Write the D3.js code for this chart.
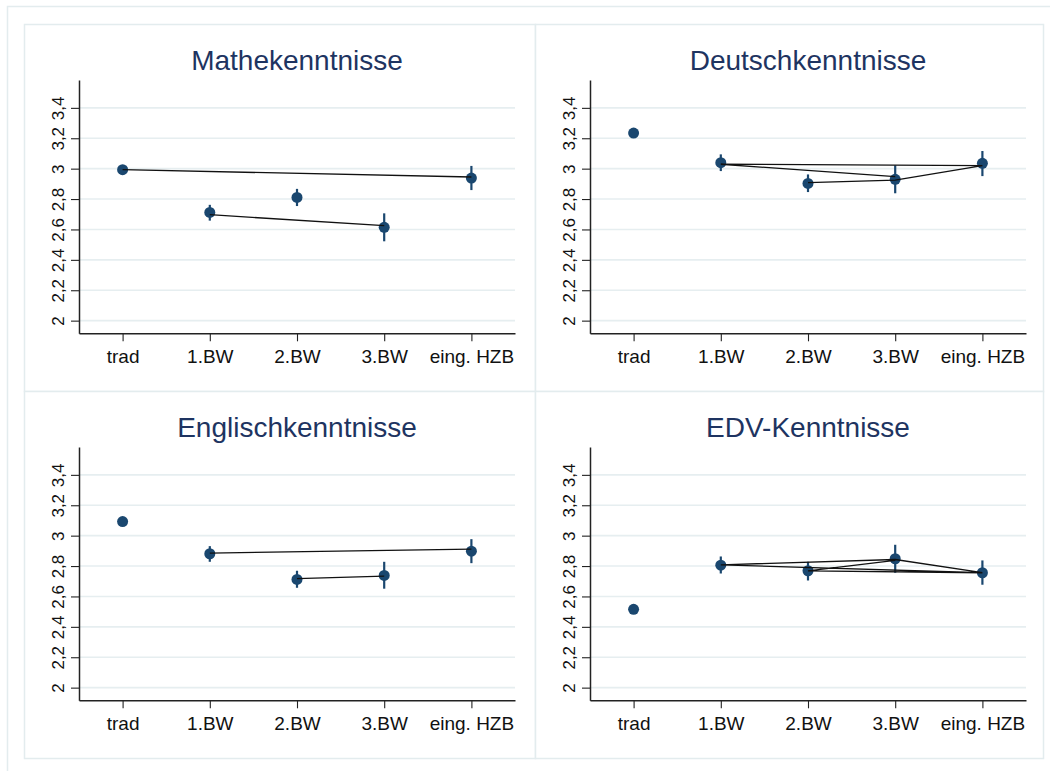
<!DOCTYPE html>
<html><head><meta charset="utf-8">
<script src="https://cdn.jsdelivr.net/npm/d3@7/dist/d3.min.js"></script>
<style>
body{margin:0;background:#fff}
svg{display:block}
text{font-family:"Liberation Sans",Arial,Helvetica,sans-serif}
</style>
</head><body>
<svg id="chart" width="1050" height="771"></svg>
<script>
// ---------- data ----------
const categories = ["trad", "1.BW", "2.BW", "3.BW", "eing. HZB"];
const yTickValues = [2, 2.2, 2.4, 2.6, 2.8, 3, 3.2, 3.4];
const yTickLabels = ["2", "2,2", "2,4", "2,6", "2,8", "3", "3,2", "3,4"];
const panelTitles = ["Mathekenntnisse", "Deutschkenntnisse", "Englischkenntnisse", "EDV-Kenntnisse"];

const matheMean  = [2.993, 2.712, 2.811, 2.614, 2.938];
const matheLow   = [null,  2.658, 2.754, 2.522, 2.859];
const matheHigh  = [null,  2.762, 2.867, 2.706, 3.018];
const matheLines = [
  [["trad", 2.993], ["eing. HZB", 2.945]],
  [["1.BW", 2.697], ["3.BW", 2.625]]
];

const deutschMean  = [3.234, 3.039, 2.903, 2.930, 3.035];
const deutschLow   = [null,  2.984, 2.846, 2.838, 2.951];
const deutschHigh  = [null,  3.094, 2.962, 3.022, 3.116];
const deutschLines = [
  [["2.BW", 2.908], ["3.BW", 2.924], ["eing. HZB", 3.020], ["1.BW", 3.029], ["3.BW", 2.947]]
];

const englischMean  = [3.093, 2.881, 2.712, 2.738, 2.898];
const englischLow   = [null,  2.828, 2.657, 2.651, 2.819];
const englischHigh  = [null,  2.931, 2.769, 2.828, 2.977];
const englischLines = [
  [["1.BW", 2.885], ["eing. HZB", 2.911]],
  [["2.BW", 2.717], ["3.BW", 2.734]]
];

const edvMean  = [2.515, 2.806, 2.769, 2.848, 2.756];
const edvLow   = [null,  2.751, 2.705, 2.756, 2.677];
const edvHigh  = [null,  2.863, 2.828, 2.940, 2.837];
const edvLines = [
  [["3.BW", 2.837], ["2.BW", 2.768], ["eing. HZB", 2.756], ["1.BW", 2.808], ["3.BW", 2.843], ["eing. HZB", 2.757]]
];

const panelsData = [
  {title: panelTitles[0], mean: matheMean, low: matheLow, high: matheHigh, lines: matheLines},
  {title: panelTitles[1], mean: deutschMean, low: deutschLow, high: deutschHigh, lines: deutschLines},
  {title: panelTitles[2], mean: englischMean, low: englischLow, high: englischHigh, lines: englischLines},
  {title: panelTitles[3], mean: edvMean, low: edvLow, high: edvHigh, lines: edvLines}
];

// ---------- layout ----------
const svg = d3.select("#chart");
const borderColor = "#e3ecee";
const gridColor = "#e6eef0";
const markerColor = "#1a476f";
const titleColor = "#1e3461";

svg.append("rect").attr("x", 0).attr("y", 0).attr("width", 1050).attr("height", 771).attr("fill", "#fff");
// outer graph border
svg.append("rect").attr("x", 7.5).attr("y", 6.5).attr("width", 1060).attr("height", 780)
  .attr("fill", "none").attr("stroke", borderColor).attr("stroke-width", 1.5);

const panelOrigins = [[24, 24], [535, 24], [24, 391], [535, 391]];
const panelWidths = [511, 508, 511, 508];
const panelH = 367;
const plotL = 55, plotR = 491, plotT = 56, plotB = 309.3;

const x = d3.scaleLinear().domain([0.5, 5.5]).range([plotL, plotR]);
const y = d3.scaleLinear().domain([1.9167, 3.5833]).range([plotB, plotT]);
const catX = c => x(categories.indexOf(c) + 1);

panelsData.forEach((p, i) => {
  const [ox, oy] = panelOrigins[i];
  const g = svg.append("g").attr("transform", `translate(${ox},${oy})`);
  g.append("rect").attr("x", 0.5).attr("y", 0.5).attr("width", panelWidths[i]).attr("height", panelH)
    .attr("fill", "#fff").attr("stroke", borderColor).attr("stroke-width", 1.5);

  // title
  g.append("text").attr("x", (plotL + plotR) / 2).attr("y", 46)
    .attr("text-anchor", "middle").attr("font-size", 28).attr("fill", titleColor).text(p.title);

  // gridlines
  g.append("g").selectAll("line").data(yTickValues).join("line")
    .attr("x1", plotL).attr("x2", plotR)
    .attr("y1", d => y(d)).attr("y2", d => y(d))
    .attr("stroke", gridColor).attr("stroke-width", 1.6);

  // error bars
  const idx = d3.range(categories.length).filter(k => p.low[k] != null);
  g.append("g").selectAll("line").data(idx).join("line")
    .attr("x1", k => x(k + 1)).attr("x2", k => x(k + 1))
    .attr("y1", k => y(p.low[k])).attr("y2", k => y(p.high[k]))
    .attr("stroke", markerColor).attr("stroke-width", 2.2);

  // markers
  g.append("g").selectAll("circle").data(p.mean).join("circle")
    .attr("cx", (d, k) => x(k + 1)).attr("cy", d => y(d)).attr("r", 5.5)
    .attr("fill", markerColor);

  // connecting lines
  const lineGen = d3.line().x(d => catX(d[0])).y(d => y(d[1]));
  g.append("g").selectAll("path").data(p.lines).join("path")
    .attr("d", lineGen).attr("fill", "none").attr("stroke", "#111").attr("stroke-width", 1.3);

  // y axis
  const yAxis = d3.axisLeft(y).tickValues(yTickValues)
    .tickFormat((d, k) => yTickLabels[k]).tickSize(8).tickSizeOuter(0);
  const ya = g.append("g").attr("transform", `translate(${plotL},0)`).call(yAxis);
  ya.select(".domain").attr("stroke", "#222").attr("stroke-width", 1.5);
  ya.selectAll(".tick line").attr("stroke", "#222").attr("stroke-width", 1.1);
  ya.selectAll(".tick text")
    .attr("x", 0).attr("dy", 0)
    .attr("transform", "translate(-15.5,0) rotate(-90)")
    .attr("text-anchor", "middle")
    .attr("font-size", 17).attr("fill", "#111")
    .style("font-family", "'Liberation Sans', Arial, sans-serif");

  // x axis
  const xAxis = d3.axisBottom(x).tickValues([1, 2, 3, 4, 5])
    .tickFormat((d, k) => categories[k]).tickSize(8).tickSizeOuter(0);
  const xa = g.append("g").attr("transform", `translate(0,${plotB})`).call(xAxis);
  xa.select(".domain").attr("stroke", "#222").attr("stroke-width", 1.5);
  xa.selectAll(".tick line").attr("stroke", "#222").attr("stroke-width", 1.1);
  xa.selectAll(".tick text")
    .attr("y", 30).attr("dy", 0)
    .attr("font-size", 19).attr("fill", "#111")
    .style("font-family", "'Liberation Sans', Arial, sans-serif");
});
</script>
</body></html>
